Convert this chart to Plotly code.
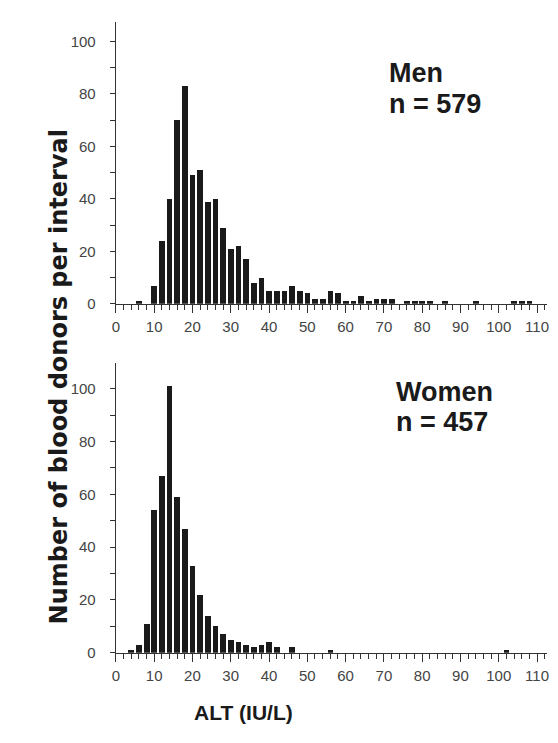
import plotly.graph_objects as go

# ---- data (ALT interval midpoints, number of donors) ----
men_alt = [6, 10, 12, 14, 16, 18, 20, 22, 24, 26, 28, 30, 32, 34, 36, 38, 40, 42, 44, 46,
           48, 50, 52, 54, 56, 58, 60, 62, 64, 66, 68, 70, 72, 76, 78, 80, 82, 86, 94, 104,
           106, 108]
men_counts = [1, 7, 24, 40, 70, 83, 49, 51, 39, 40, 29, 21, 22, 17, 8, 10, 5, 5, 5, 7,
              5, 4, 2, 2, 5, 4, 1, 1, 3, 1, 2, 2, 2, 1, 1, 1, 1, 1, 1, 1,
              1, 1]
women_alt = [4, 6, 8, 10, 12, 14, 16, 18, 20, 22, 24, 26, 28, 30, 32, 34, 36, 38, 40, 42,
             46, 56, 102]
women_counts = [1, 3, 11, 54, 67, 101, 59, 47, 33, 22, 14, 10, 7, 5, 4, 3, 2, 3, 4, 2,
                2, 1, 1]
x_tick_vals = list(range(0, 111, 10))
y_tick_vals = [0, 20, 40, 60, 80, 100]
men_lines = ["Men", "n = 579"]
women_lines = ["Women", "n = 457"]
y_title = "Number of blood donors per interval"
x_title = "ALT (IU/L)"

# page has an 8px body margin: figure is placed at (8, 8)
OFF = 8
W, H = 558 - 2 * OFF, 743 - 2 * OFF
def px(x):
    return (x - OFF) / W
def py(y):
    return 1 - (y - OFF) / H

BAR = "#1a1a1a"
AX = "#333333"
TICKFONT = dict(family="Liberation Sans, Arial, sans-serif", size=15, color="#444444")
BOLD = "Liberation Sans, Arial, sans-serif"

fig = go.Figure()
fig.add_trace(go.Bar(x=men_alt, y=men_counts, width=1.5, marker=dict(color=BAR, line=dict(width=0)),
                     xaxis="x", yaxis="y", showlegend=False, hoverinfo="x+y"))
fig.add_trace(go.Bar(x=women_alt, y=women_counts, width=1.5, marker=dict(color=BAR, line=dict(width=0)),
                     xaxis="x2", yaxis="y2", showlegend=False, hoverinfo="x+y"))

def xax(anchor):
    return dict(domain=[px(113), px(549)], range=[0, 112.6], anchor=anchor,
                showline=True, linecolor=AX, linewidth=1.3, showgrid=False, zeroline=False,
                ticks="outside", tickmode="array", tickvals=x_tick_vals, ticklen=8, tickwidth=1,
                tickcolor=AX, tickfont=TICKFONT, ticklabelstandoff=1, ticklabeloverflow="allow",
                minor=dict(dtick=2, tick0=0, ticklen=5, ticks="outside", tickcolor=AX, tickwidth=1))

def yax(anchor, dom, rng):
    return dict(domain=dom, range=rng, anchor=anchor,
                showline=True, linecolor=AX, linewidth=1.3, showgrid=False, zeroline=False,
                ticks="outside", tickmode="array", tickvals=y_tick_vals, ticklen=5, tickwidth=1,
                tickcolor=AX, tickfont=TICKFONT, ticklabelstandoff=11,
                minor=dict(dtick=10, tick0=0, ticklen=5, ticks="outside", tickcolor=AX, tickwidth=1))

def label(text, x, y, size=27):
    return dict(text=f"<b>{text}</b>", x=px(x), y=py(y), xref="paper", yref="paper",
                xanchor="left", yanchor="middle", showarrow=False,
                font=dict(family=BOLD, size=size, color="#1a1a1a"))

fig.update_layout(
    width=W, height=H, margin=dict(l=0, r=0, t=0, b=0),
    paper_bgcolor="white", plot_bgcolor="white", bargap=0,
    xaxis=xax("y"),
    yaxis=yax("x", [py(307), py(22)], [0, 107.5]),
    xaxis2=xax("y2"),
    yaxis2=yax("x2", [py(660), py(367)], [0, 109.7]),
    annotations=[
        label(men_lines[0], 387, 74),
        label(men_lines[1], 387, 105),
        label(women_lines[0], 394, 396),
        label(women_lines[1], 394, 427),
        dict(text=f"<b>{y_title}</b>", x=px(55), y=py(381), xref="paper", yref="paper",
             xanchor="center", yanchor="middle", textangle=-90, showarrow=False,
             font=dict(family="DejaVu Sans, sans-serif", size=24, color="#1a1a1a")),
        dict(text=f"<b>{x_title}</b>", x=px(242), y=py(720), xref="paper", yref="paper",
             xanchor="center", yanchor="middle", showarrow=False,
             font=dict(family=BOLD, size=21, color="#1a1a1a")),
    ],
)

fig.write_html("out.html")
